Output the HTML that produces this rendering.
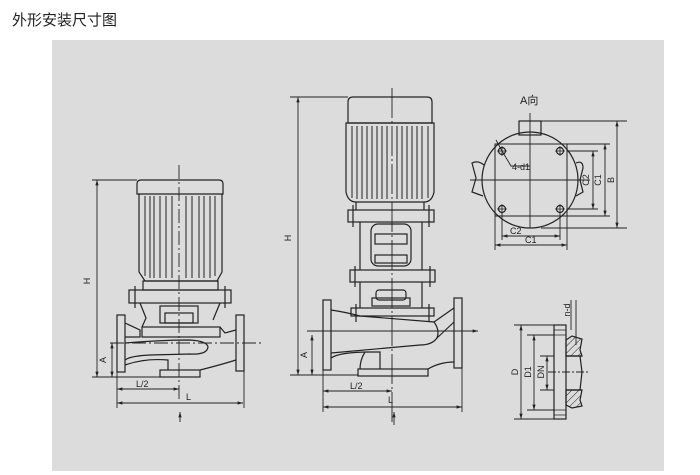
<!DOCTYPE html>
<html><head><meta charset="utf-8"><style>
html,body{margin:0;padding:0;background:#fff;width:700px;height:475px;overflow:hidden}
.t{position:absolute;left:12px;top:9px;font:15px "Liberation Sans","Noto Sans CJK SC",sans-serif;color:#222}
svg{position:absolute;left:0;top:0}
text{font-family:"Liberation Sans","Noto Sans CJK SC",sans-serif;fill:#222}
</style></head><body>
<div class="t">外形安装尺寸图</div>
<svg width="700" height="475" viewBox="0 0 700 475">
<defs>
<marker id="a" viewBox="0 0 10 10" refX="10" refY="5" markerWidth="6" markerHeight="6" orient="auto-start-reverse"><path d="M0,2 L10,5 L0,8z" fill="#222"/></marker>
<pattern id="h" width="5" height="5" patternUnits="userSpaceOnUse" patternTransform="rotate(45)"><line x1="0" y1="0" x2="0" y2="5" stroke="#222" stroke-width="1"/></pattern>
</defs>
<rect x="52" y="40" width="612" height="431" fill="#dcdcdc"/>
<g fill="none" stroke="#222" stroke-width="1.2">
<!-- LEFT PUMP -->
<path d="M137,194 L137,184 Q137,180 141,180 L219,180 Q223,180 223,184 L223,194 Z"/>
<path d="M139,194 L139,272 L145,281 L217,281 L222,272 L222,194"/>
<g stroke-width="1">
<path d="M145,196 V276 M150,196 V278 M154,196 V278 M160,196 V278 M166,196 V278 M172,196 V278 M186,196 V278 M192,196 V278 M199,196 V278 M204,196 V278 M210,196 V278 M215,196 V276"/>
</g>
<rect x="143" y="281" width="75" height="9"/>
<rect x="129" y="290" width="102" height="13"/>
<path d="M135,286 V308 M225,286 V308"/>
<path d="M140,303 L146,318 L142,327 M220,303 L213,320"/>
<rect x="160" y="306" width="38" height="17"/>
<rect x="165" y="313" width="28" height="10"/>
<rect x="142" y="327" width="78" height="10"/>
<rect x="117" y="315" width="8" height="57"/>
<rect x="236" y="315" width="8" height="56"/>
<path d="M125,323 L140,330 L140,337 L125,337"/>
<path d="M220,327 L225,333 L236,330"/>
<path d="M125,343 Q160,340 190,340 Q207,341 208,347 Q207,355 190,354 L150,355 Q130,356 125,360"/>
<path d="M125,365 Q145,358 168,360 L168,370"/>
<rect x="160" y="370" width="40" height="7"/>
<path d="M200,370 Q220,365 236,360"/>
<!-- RIGHT PUMP -->
<path d="M348,123 L348,102 Q348,97 353,97 L427,97 Q432,97 432,102 L432,123 Z"/>
<path d="M346,123 L346,192 Q348,202 356,202 L424,202 Q432,202 434,192 L434,123 Z"/>
<g stroke-width="1">
<path d="M352,126 V198 M357,126 V199 M362,126 V199 M367,126 V199 M372,126 V199 M377,126 V199 M382,126 V199 M387,126 V199 M397,126 V199 M402,126 V199 M407,126 V199 M412,126 V199 M417,126 V199 M422,126 V199 M428,126 V198"/>
</g>
<path d="M356,202 V210 M424,202 V210"/>
<rect x="348" y="210" width="86" height="12"/>
<path d="M353,205 V227 M429,205 V227"/>
<path d="M360,222 V270 M422,222 V270"/>
<rect x="371" y="224" width="40" height="42" rx="7"/>
<rect x="375" y="234" width="32" height="10"/>
<rect x="375" y="255" width="32" height="8"/>
<rect x="350" y="270" width="85" height="12"/>
<path d="M355,266 V287 M430,266 V287"/>
<path d="M360,282 V308 M422,282 V308"/>
<rect x="376" y="290" width="30" height="10" rx="3"/>
<rect x="372" y="298" width="38" height="8"/>
<rect x="351" y="308" width="83" height="8"/>
<path d="M356,304 V322 M429,304 V322"/>
<rect x="323" y="300" width="8" height="70"/>
<rect x="454" y="298" width="8" height="70"/>
<path d="M331,310 Q345,312 360,316 L434,322 Q440,330 437,338 Q432,345 420,345 L331,353"/>
<path d="M434,322 L454,308 M437,338 L454,322"/>
<path d="M331,358 Q340,352 370,352 L380,352 L380,369 M365,352 Q360,360 360,369"/>
<rect x="358" y="369" width="70" height="7"/>
<path d="M428,369 Q440,362 454,362"/>
<!-- A VIEW -->
<circle cx="530" cy="180" r="48"/>
<rect x="519" y="121" width="22" height="14"/>
<path d="M484,165 Q478,160 472,163 L476,178 L472,192 L483,196 M576,163 Q583,160 583,168 L580,180 L583,192 L576,196"/>
<rect x="495" y="144" width="72" height="72" stroke-width="1"/>
<circle cx="502" cy="151" r="3.5"/><circle cx="560" cy="151" r="3.5"/><circle cx="502" cy="209" r="3.5"/><circle cx="560" cy="209" r="3.5"/>
<path d="M497,151 H507 M502,146 V156 M555,151 H565 M560,146 V156 M497,209 H507 M502,204 V214 M555,209 H565 M560,204 V214" stroke-width="0.8"/>
<path d="M496,140 L502,151 L511,166 L530,166" stroke-width="0.9"/>
<path d="M530,113 V228 M470,180 H590" stroke-width="0.9"/>
<g stroke-width="0.9">
<path d="M541,121 H627 M567,144 H610 M567,151 H598 M567,209 H598 M567,216 H610 M541,228 H627"/>
<path d="M593,151 V209" marker-start="url(#a)" marker-end="url(#a)"/>
<path d="M605,144 V216" marker-start="url(#a)" marker-end="url(#a)"/>
<path d="M617,121 V228" marker-start="url(#a)" marker-end="url(#a)"/>
<path d="M495,216 V250 M567,216 V250 M502,213 V240 M560,213 V240"/>
<path d="M502,236 H560" marker-start="url(#a)" marker-end="url(#a)"/>
<path d="M495,245 H567" marker-start="url(#a)" marker-end="url(#a)"/>
</g>
<!-- FLANGE DETAIL -->
<rect x="554" y="325" width="12" height="94"/>
<path d="M566,340 L572,336 L582,339 L580,350 L582,356 L566,356 Z" fill="url(#h)"/>
<path d="M566,390 L582,390 L580,400 L582,406 L572,408 L566,405 Z" fill="url(#h)"/>
<path d="M566,356 H582 M566,390 H582 M580,356 L582,372 L580,390"/>
<path d="M554,330 H566 M554,335 H566 M554,410 H566 M554,415 H566" stroke-width="0.8"/>
<g stroke-width="0.9">
<path d="M514,325 H554 M527,335 H554 M540,356 H554 M540,390 H554 M527,410 H554 M514,419 H554"/>
<path d="M521,325 V419" marker-start="url(#a)" marker-end="url(#a)"/>
<path d="M534,335 V410" marker-start="url(#a)" marker-end="url(#a)"/>
<path d="M547,356 V390" marker-start="url(#a)" marker-end="url(#a)"/>
<path d="M571,300 V330 M576,300 V345" />
<path d="M548,372 H590" stroke-dasharray="8,2,2,2"/>
</g>
<!-- DIMENSIONS LEFT -->
<g stroke-width="0.9">
<path d="M179,165 V400" stroke-dasharray="14,3,2,3"/>
<path d="M110,343 H262" stroke-dasharray="14,3,2,3"/>
<path d="M92,180 H137 M92,377 H160"/>
<path d="M97,180 V377" marker-start="url(#a)" marker-end="url(#a)"/>
<path d="M112,343 V377" marker-start="url(#a)" marker-end="url(#a)"/>
<path d="M117,372 V408 M244,371 V408"/>
<path d="M117,389 H179" marker-start="url(#a)" marker-end="url(#a)"/>
<path d="M117,403 H243" marker-start="url(#a)" marker-end="url(#a)"/>
<path d="M180,422 V412" marker-end="url(#a)"/>
<!-- DIMENSIONS RIGHT -->
<path d="M392,88 V425" stroke-dasharray="30,3,2,3"/>
<path d="M307,331 H478" marker-end="url(#a)"/>
<path d="M290,97 H348 M290,375 H358"/>
<path d="M298,97 V375" marker-start="url(#a)" marker-end="url(#a)"/>
<path d="M312,335 V375" marker-start="url(#a)" marker-end="url(#a)"/>
<path d="M323,370 V412 M462,368 V412"/>
<path d="M323,391 H392" marker-start="url(#a)" marker-end="url(#a)"/>
<path d="M323,407 H462" marker-start="url(#a)" marker-end="url(#a)"/>
<path d="M394,425 V412" marker-end="url(#a)"/>
</g>
</g>
<g font-size="9">
<text x="90" y="281" transform="rotate(-90 90 281)" text-anchor="middle">H</text>
<text x="106" y="360" transform="rotate(-90 106 360)" text-anchor="middle">A</text>
<text x="136" y="387">L/2</text>
<text x="186" y="400">L</text>
<text x="291" y="238" transform="rotate(-90 291 238)" text-anchor="middle">H</text>
<text x="307" y="355" transform="rotate(-90 307 355)" text-anchor="middle">A</text>
<text x="350" y="389">L/2</text>
<text x="388" y="403">L</text>
<text x="512" y="170">4-d1</text>
<text x="589" y="180" transform="rotate(-90 589 180)" text-anchor="middle">C2</text>
<text x="601" y="180" transform="rotate(-90 601 180)" text-anchor="middle">C1</text>
<text x="614" y="180" transform="rotate(-90 614 180)" text-anchor="middle">B</text>
<text x="510" y="234">C2</text>
<text x="525" y="243">C1</text>
<text x="518" y="372" transform="rotate(-90 518 372)" text-anchor="middle">D</text>
<text x="531" y="372" transform="rotate(-90 531 372)" text-anchor="middle">D1</text>
<text x="544" y="372" transform="rotate(-90 544 372)" text-anchor="middle">DN</text>
<text x="570" y="310" transform="rotate(-90 570 310)" text-anchor="middle">n-d</text>
</g>
<text x="520" y="104" font-size="11">A向</text>
</svg>
</body></html>
